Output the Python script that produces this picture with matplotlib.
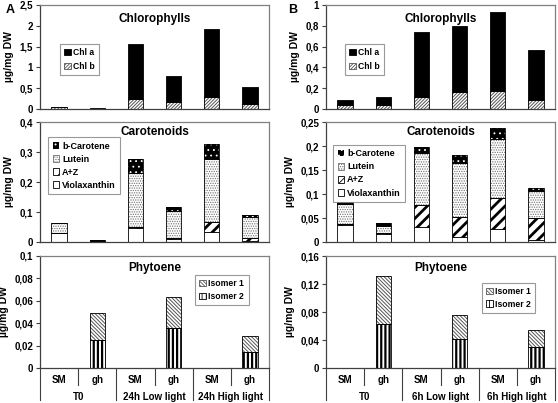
import matplotlib
matplotlib.use("Agg")
import matplotlib.pyplot as plt
from matplotlib.patches import Patch
from matplotlib.lines import Line2D
import numpy as np

plt.rcParams['font.family'] = ['Liberation Sans', 'DejaVu Sans']
plt.rcParams['font.weight'] = 'bold'

# ---------------- data ----------------
samples = ["SM", "gh", "SM", "gh", "SM", "gh"]
groups_A = ["T0", "24h Low light", "24h High light"]
groups_B = ["T0", "6h Low light", "6h High light"]

# Panel A
A_chl_b = [0.04, 0.005, 0.24, 0.16, 0.30, 0.11]
A_chl_a = [0.005, 0.02, 1.32, 0.64, 1.63, 0.43]
A_viola = [0.029, 0.001, 0.046, 0.010, 0.035, 0.005]
A_az = [0.0, 0.002, 0.004, 0.002, 0.032, 0.008]
A_lutein = [0.033, 0.002, 0.180, 0.091, 0.210, 0.070]
A_bcar = [0.002, 0.001, 0.046, 0.015, 0.049, 0.008]
A_iso2 = [0.0, 0.0246, 0.0, 0.036, 0.0, 0.0145]
A_iso1 = [0.0, 0.0244, 0.0, 0.027, 0.0, 0.0145]

# Panel B
B_chl_b = [0.035, 0.035, 0.12, 0.16, 0.17, 0.083]
B_chl_a = [0.055, 0.085, 0.62, 0.64, 0.76, 0.487]
B_viola = [0.035, 0.016, 0.031, 0.010, 0.027, 0.005]
B_az = [0.003, 0.002, 0.046, 0.043, 0.065, 0.046]
B_lutein = [0.041, 0.016, 0.108, 0.111, 0.122, 0.056]
B_bcar = [0.004, 0.005, 0.012, 0.018, 0.024, 0.005]
B_iso2 = [0.0, 0.063, 0.0, 0.0415, 0.0, 0.030]
B_iso1 = [0.0, 0.069, 0.0, 0.0345, 0.0, 0.025]

W, H = 558, 403
fig = plt.figure(figsize=(W / 100, H / 100), dpi=100)


def add_ax(l, t, r, b):
    return fig.add_axes([l / W, 1 - b / H, (r - l) / W, (b - t) / H])


GRAY = '#808080'
TICKFS = 7
BW = 0.4


def set_hlw(bars, lw):
    for p in bars:
        try:
            p.set_hatch_linewidth(lw)
        except AttributeError:
            pass


ST = {
    'chl_a': dict(color='black', edgecolor='black', hatch=None, hlw=1.0),
    'chl_b': dict(color='white', edgecolor='#555555', hatch='//////////', hlw=0.7),
    'viola': dict(color='white', edgecolor='black', hatch=None, hlw=1.0),
    'az': dict(color='white', edgecolor='black', hatch='///', hlw=2.0),
    'lutein': dict(color='white', edgecolor='#707070', hatch='.......', hlw=0.6),
    'bcar': dict(color='black', edgecolor='white', hatch='...', hlw=0.6),
    'iso1': dict(color='white', edgecolor='#555555', hatch='\\\\\\\\\\\\\\\\\\', hlw=0.7),
    'iso2': dict(color='white', edgecolor='black', hatch='||||', hlw=1.6),
}


def draw_layer(ax, vals, bottom, key):
    s = ST[key]
    x = np.arange(len(vals))
    if key == 'bcar':
        b1 = ax.bar(x, vals, BW, bottom=bottom, color='black', edgecolor='white',
                    hatch=s['hatch'], linewidth=0)
        set_hlw(b1, s['hlw'])
        ax.bar(x, vals, BW, bottom=bottom, fill=False, edgecolor='black', linewidth=0.6)
    elif key in ('chl_b', 'lutein', 'iso1'):
        b1 = ax.bar(x, vals, BW, bottom=bottom, color='white', edgecolor=s['edgecolor'],
                    hatch=s['hatch'], linewidth=0)
        set_hlw(b1, s['hlw'])
        ax.bar(x, vals, BW, bottom=bottom, fill=False, edgecolor='black', linewidth=0.6)
    else:
        b1 = ax.bar(x, vals, BW, bottom=bottom, color=s['color'], edgecolor=s['edgecolor'],
                    hatch=s['hatch'], linewidth=0.6)
        set_hlw(b1, s['hlw'])
    return np.array(bottom) + np.array(vals)


def legend_handle(key):
    s = ST[key]
    if key == 'bcar':
        p = Patch(facecolor='black', edgecolor='white', hatch=s['hatch'], linewidth=0)
    elif key in ('chl_b', 'lutein', 'iso1'):
        p = Patch(facecolor='white', edgecolor=s['edgecolor'], hatch=s['hatch'], linewidth=0.6)
    else:
        p = Patch(facecolor=s['color'], edgecolor=s['edgecolor'], hatch=s['hatch'], linewidth=0.6)
    return p


def fmt(v):
    return f"{v:.4g}".replace('.', ',')


def style_ax(ax, ymax, step, title, title_y):
    ax.set_xlim(-0.5, 5.5)
    ax.set_ylim(0, ymax)
    ticks = np.round(np.arange(0, ymax + step / 2, step), 4)
    ax.set_yticks(ticks)
    ax.set_yticklabels([fmt(t) for t in ticks], fontsize=TICKFS, fontweight='bold')
    ax.set_xticks([])
    for sp in ['top', 'right']:
        ax.spines[sp].set_color(GRAY)
        ax.spines[sp].set_linewidth(0.9)
    for sp in ['left', 'bottom']:
        ax.spines[sp].set_color('#404040')
        ax.spines[sp].set_linewidth(0.9)
    ax.tick_params(axis='y', length=3, width=0.8, color='#404040', pad=2)
    ax.text(0.5, title_y, title, transform=ax.transAxes, ha='center', va='center',
            fontsize=8.5, fontweight='bold')
    ax.set_ylabel("µg/mg DW", fontsize=7.5, fontweight='bold', labelpad=4)


def make_legend(ax, keys, labels, anchor, fs, ls):
    handles = [legend_handle(k) for k in keys]
    leg = ax.legend(handles, labels, loc='upper left', bbox_to_anchor=anchor,
                    borderaxespad=0, frameon=True, fancybox=False,
                    handlelength=0.75, handleheight=0.75, handletextpad=0.3,
                    labelspacing=ls, borderpad=0.5, prop={'weight': 'bold', 'size': fs})
    leg.get_frame().set_edgecolor(GRAY)
    leg.get_frame().set_linewidth(0.8)
    for p in leg.get_patches():
        try:
            p.set_hatch_linewidth(0.6)
        except AttributeError:
            pass


def draw_table(ax, groups):
    tr = ax.get_xaxis_transform()
    for i, s in enumerate(samples):
        ax.text(i, -0.105, s, transform=tr, ha='center', va='center', fontsize=7,
                fontweight='bold', clip_on=False)
    for g, name in enumerate(groups):
        ax.text(2 * g + 0.5, -0.255, name, transform=tr, ha='center', va='center',
                fontsize=7, fontweight='bold', clip_on=False)
    for k in range(7):
        xe = -0.5 + k
        yb = -0.29 if k % 2 == 0 else -0.15
        ax.add_line(Line2D([xe, xe], [0, yb], transform=tr, color='#404040',
                           linewidth=0.8, clip_on=False))


panels = [
    dict(l=40, r=269, letter='A', lx=6, groups=groups_A,
         chl=(A_chl_b, A_chl_a), car=(A_viola, A_az, A_lutein, A_bcar), phy=(A_iso2, A_iso1),
         lim=((2.5, 0.5), (0.4, 0.1), (0.1, 0.02)),
         leg=((0.087, 0.625), (0.035, 0.875), (0.677, 0.83))),
    dict(l=326, r=555, letter='B', lx=288, groups=groups_B,
         chl=(B_chl_b, B_chl_a), car=(B_viola, B_az, B_lutein, B_bcar), phy=(B_iso2, B_iso1),
         lim=((1.0, 0.2), (0.25, 0.05), (0.16, 0.04)),
         leg=((0.083, 0.625), (0.031, 0.81), (0.681, 0.76))),
]

for P in panels:
    ax1 = add_ax(P['l'], 5, P['r'], 109)
    ax2 = add_ax(P['l'], 122, P['r'], 242)
    ax3 = add_ax(P['l'], 256, P['r'], 368)

    b = np.zeros(6)
    b = draw_layer(ax1, P['chl'][0], b, 'chl_b')
    b = draw_layer(ax1, P['chl'][1], b, 'chl_a')
    style_ax(ax1, P['lim'][0][0], P['lim'][0][1], "Chlorophylls", 0.87)
    make_legend(ax1, ['chl_a', 'chl_b'], ['Chl a', 'Chl b'], P['leg'][0], 6.2, 0.55)

    b = np.zeros(6)
    for vals, key in zip(P['car'], ['viola', 'az', 'lutein', 'bcar']):
        b = draw_layer(ax2, vals, b, key)
    style_ax(ax2, P['lim'][1][0], P['lim'][1][1], "Carotenoids", 0.92)
    make_legend(ax2, ['bcar', 'lutein', 'az', 'viola'],
                ['b-Carotene', 'Lutein', 'A+Z', 'Violaxanthin'], P['leg'][1], 6.5, 0.45)

    b = np.zeros(6)
    b = draw_layer(ax3, P['phy'][0], b, 'iso2')
    b = draw_layer(ax3, P['phy'][1], b, 'iso1')
    style_ax(ax3, P['lim'][2][0], P['lim'][2][1], "Phytoene", 0.89)
    make_legend(ax3, ['iso1', 'iso2'], ['Isomer 1', 'Isomer 2'], P['leg'][2], 6.2, 0.4)
    draw_table(ax3, P['groups'])

    fig.text(P['lx'] / W, 1 - 10 / H, P['letter'], fontsize=9, fontweight='bold',
             ha='left', va='center')

fig.savefig("out.png", dpi=100)
